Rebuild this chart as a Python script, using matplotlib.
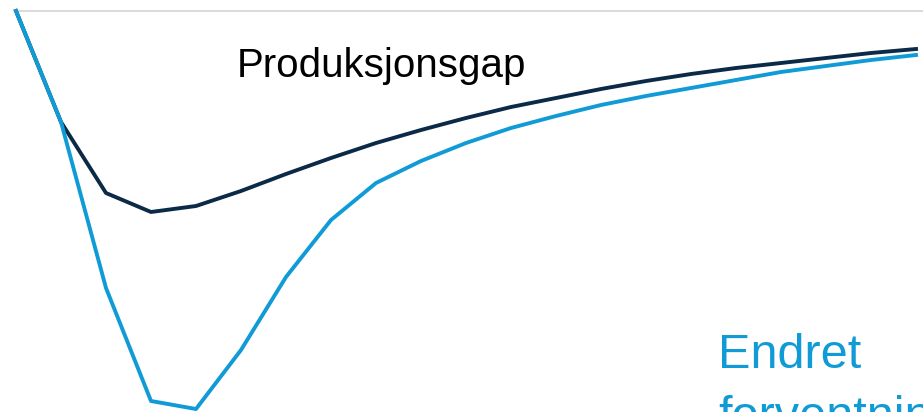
import matplotlib as mpl
mpl.use('Agg')
import matplotlib.pyplot as plt

# quarters after the shock (index)
periods = list(range(21))
produksjonsgap = [0.0, -1.11, -1.82, -2.01, -1.95, -1.80, -1.63, -1.47, -1.32, -1.19,
                  -1.07, -0.96, -0.87, -0.78, -0.70, -0.63, -0.57, -0.52, -0.47, -0.42, -0.38]
endret_forventning = [0.0, -1.11, -2.77, -3.90, -3.98, -3.39, -2.66, -2.09, -1.72, -1.50,
                      -1.32, -1.17, -1.05, -0.94, -0.85, -0.77, -0.69, -0.61, -0.55, -0.49, -0.44]

dark = '#0b2a47'
blue = '#119bd6'

fig = plt.figure(figsize=(9.23, 4.12), dpi=100)
ax = fig.add_axes([0, 0, 1, 1])
ax.set_axis_off()

ax.hlines(0, 0, 21, color='#d4d4d4', lw=1.2, zorder=1)
ax.plot(periods, produksjonsgap, color=dark, lw=2.8, zorder=2)
ax.plot(periods, endret_forventning, color=blue, lw=2.8, zorder=3)

ax.set_xlim(-16 / 45, 907 / 45)
ax.set_ylim(-4.01, 0.11)

ax.text(237 / 923, 1 - 77 / 412, "Produksjonsgap", transform=ax.transAxes,
        fontsize=29, family='Liberation Sans', color='black', va='baseline')
# label runs off the bottom edge, as in the original slide
ax.text(718 / 923, 1 - 368 / 412, "Endret", transform=ax.transAxes,
        fontsize=35, family='Liberation Sans', color=blue, va='baseline')
ax.text(718 / 923, 1 - 430 / 412, "forventning", transform=ax.transAxes,
        fontsize=35, family='Liberation Sans', color=blue, va='baseline', clip_on=False)

fig.savefig("out.png", dpi=100)
